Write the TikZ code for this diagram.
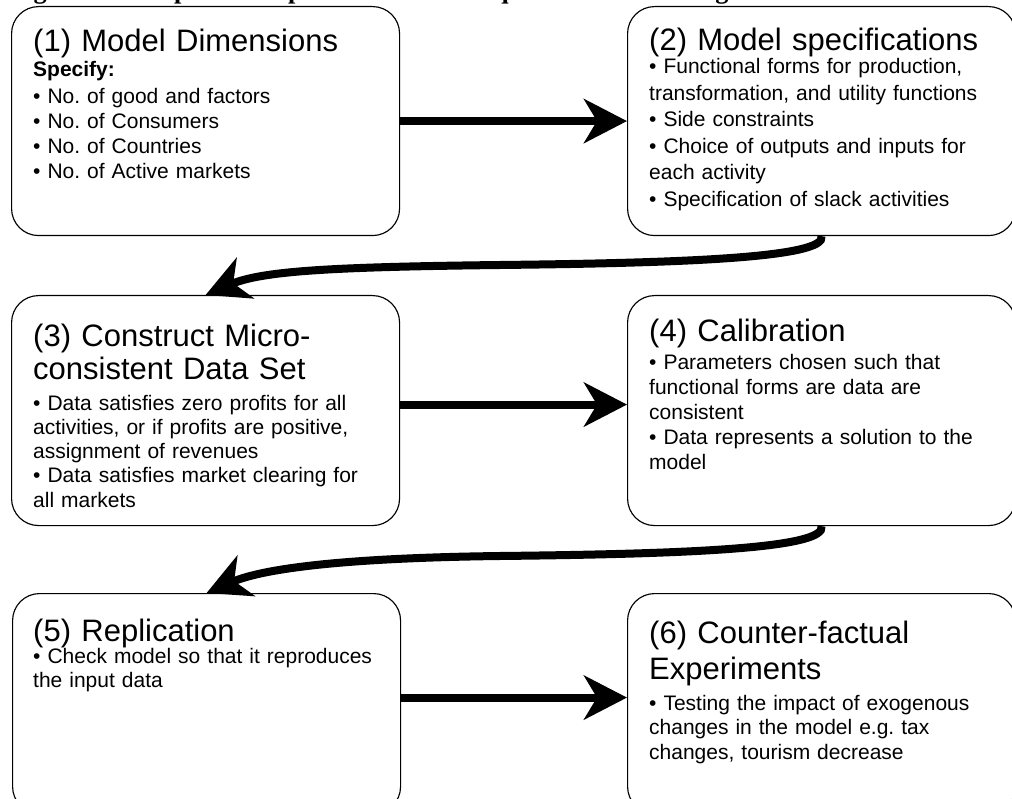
\documentclass[tikz,border=0pt]{standalone}
\usepackage{fontspec}
\setmainfont{Liberation Sans}
\newfontfamily\capfont{Liberation Serif}
\usetikzlibrary{arrows.meta}
\frenchspacing
\begin{document}
\begin{tikzpicture}[x=1pt,y=-1pt,
  stepbox/.style={draw, line width=1.15pt, rounded corners=27pt, minimum width=388pt, anchor=north west, inner sep=0pt},
  ttl/.style={anchor=base west, inner sep=0pt, align=left, text width=372pt, font=\fontsize{31}{33}\selectfont},
  bdy/.style={anchor=base west, inner sep=0pt, align=left, text width=372pt, font=\fontsize{21}{25}\selectfont},
  flow/.style={line width=8pt, -{Stealth[length=43pt,width=44pt,inset=13pt]}},
]
\useasboundingbox (0,0) rectangle (1012,799);
\clip (0,0) rectangle (1012,799);
\fill[white] (0,0) rectangle (1012,799);

\node[anchor=base west, inner sep=0pt, font=\capfont\bfseries\fontsize{26.3}{28}\selectfont] (cap) at (10,-1) {Figure 2.1: Steps in Computable General Equilibrium Modeling};

% boxes
\node[stepbox, minimum height=229pt] (b1) at (11,6) {};
\node[stepbox, minimum height=229pt] (b2) at (627,6) {};
\node[stepbox, minimum height=230pt] (b3) at (11,295) {};
\node[stepbox, minimum height=230pt] (b4) at (627,295) {};
\node[stepbox, minimum height=220pt] (b5) at (12,593) {};
\node[stepbox, minimum height=220pt] (b6) at (627,593) {};

% box 1
\node[ttl] (t1) at (33,52) {(1) Model Dimensions};
\node[bdy] (s1) at (33,77) {\textbf{Specify:}};
\node[bdy] (l1) at (33,103.5) {• No. of good and factors\\• No. of Consumers\\• No. of Countries\\• No. of Active markets};

% box 2
\node[ttl] (t2) at (649,51) {(2) Model specifications};
\node[bdy, font=\fontsize{21}{26.5}\selectfont] (l2) at (649,74) {• Functional forms for production,\\transformation, and utility functions\\• Side constraints\\• Choice of outputs and inputs for\\each activity\\• Specification of slack activities};

% box 3
\node[ttl, font=\fontsize{31}{32.5}\selectfont] (t3) at (33,347) {(3) Construct Micro-\\consistent Data Set};
\node[bdy, font=\fontsize{21}{24.3}\selectfont] (l3) at (33,410) {• Data satisfies zero profits for all\\activities, or if profits are positive,\\assignment of revenues\\• Data satisfies market clearing for\\all markets};

% box 4
\node[ttl] (t4) at (649,342) {(4) Calibration};
\node[bdy] (l4) at (649,370) {• Parameters chosen such that\\functional forms are data are\\consistent\\• Data represents a solution to the\\model};

% box 5
\node[ttl] (t5) at (33,641) {(5) Replication};
\node[bdy, font=\fontsize{21}{24}\selectfont] (l5) at (33,663) {• Check model so that it reproduces\\the input data};

% box 6
\node[ttl, font=\fontsize{31}{36}\selectfont] (t6) at (649,643) {(6) Counter-factual\\Experiments};
\node[bdy, font=\fontsize{21}{24.5}\selectfont] (l6) at (649,710) {• Testing the impact of exogenous\\changes in the model e.g. tax\\changes, tourism decrease};

% connectors
\draw[flow] (b1.east) -- (b2.west);
\draw[flow] ([yshift=6pt]b3.east) -- ([yshift=6pt]b4.west);
\draw[flow] ([yshift=6pt]b5.east) -- ([yshift=6pt]b6.west);
\draw[flow] (b2.south) .. controls (827,258) and (680,263) .. (500,265) .. controls (330,267) and (262,271) .. (b3.north);
\draw[flow] (b4.south) .. controls (827,549) and (680,554) .. (500,556) .. controls (340,558) and (262,569) .. (b5.north);
\end{tikzpicture}
\end{document}
